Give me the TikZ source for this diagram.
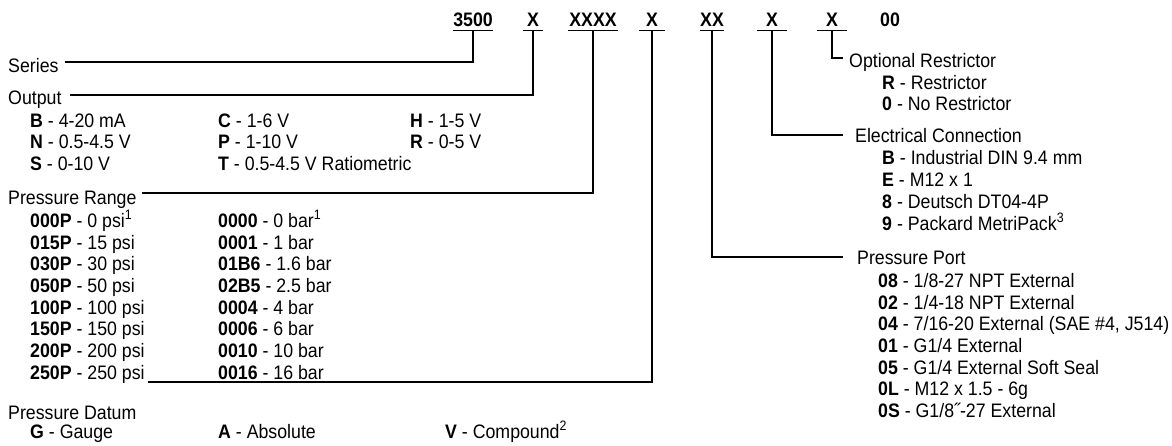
\documentclass[tikz,border=0pt]{standalone}
\usepackage{fontspec}
\setmainfont{Liberation Sans}[FakeStretch=0.91]
\usepackage{tikz}

\begin{document}
\begin{tikzpicture}[x=1pt, y=-1pt,
  every node/.style={inner sep=0pt, anchor=west, text height=14pt, text depth=0pt, font=\fontsize{19.5}{22}\selectfont},
  code/.style={anchor=center, inner ysep=4.5pt, font=\fontsize{19.5}{22}\selectfont\bfseries},
  link/.style={line width=1.4pt}]
  \useasboundingbox (0,0) rectangle (1172,445);

  % model code
  \node[code, minimum width=40pt] (C1) at (473,19) {3500};
  \node[code, minimum width=20pt] (C2) at (533,19) {X};
  \node[code, minimum width=50pt] (C3) at (593,19) {XXXX};
  \node[code, minimum width=25pt] (C4) at (652,19) {X};
  \node[code, minimum width=20pt] (C5) at (712,19) {XX};
  \node[code, minimum width=30pt] (C6) at (772,19) {X};
  \node[code, minimum width=30pt] (C7) at (832,19) {X};
  \node[code] (C8) at (890,19) {00};
  \foreach \c in {C1,C2,C3,C4,C5,C6,C7}
    \draw[link] (\c.south west) -- (\c.south east);

  % left side
  \node (series) at (8,65) {Series};
  \node (output) at (8,97) {Output};
  \node at (30,120) {\textbf{B} - 4-20 mA};
  \node at (218,120) {\textbf{C} - 1-6 V};
  \node at (410,120) {\textbf{H} - 1-5 V};
  \node at (30,141) {\textbf{N} - 0.5-4.5 V};
  \node at (218,141) {\textbf{P} - 1-10 V};
  \node at (410,141) {\textbf{R} - 0-5 V};
  \node at (30,163) {\textbf{S} - 0-10 V};
  \node at (218,163) {\textbf{T} - 0.5-4.5 V Ratiometric};

  \node (range) at (8,197) {Pressure Range};
  \node at (30,220) {\textbf{000P} - 0 psi\textsuperscript{1}};
  \node at (30,242) {\textbf{015P} - 15 psi};
  \node at (30,263) {\textbf{030P} - 30 psi};
  \node at (30,285) {\textbf{050P} - 50 psi};
  \node at (30,307) {\textbf{100P} - 100 psi};
  \node at (30,328) {\textbf{150P} - 150 psi};
  \node at (30,350) {\textbf{200P} - 200 psi};
  \node (psi250) at (30,372) {\textbf{250P} - 250 psi};
  \node at (218,220) {\textbf{0000} - 0 bar\textsuperscript{1}};
  \node at (218,242) {\textbf{0001} - 1 bar};
  \node at (218,263) {\textbf{01B6} - 1.6 bar};
  \node at (218,285) {\textbf{02B5} - 2.5 bar};
  \node at (218,307) {\textbf{0004} - 4 bar};
  \node at (218,328) {\textbf{0006} - 6 bar};
  \node at (218,350) {\textbf{0010} - 10 bar};
  \node at (218,372) {\textbf{0016} - 16 bar};

  \node (datum) at (8,412) {Pressure Datum};
  \node at (30,431) {\textbf{G} - Gauge};
  \node at (218,431) {\textbf{A} - Absolute};
  \node at (445,431) {\textbf{V} - Compound\textsuperscript{2}};

  % right side
  \node (restr) at (849,60) {Optional Restrictor};
  \node at (882,82) {\textbf{R} - Restrictor};
  \node at (882,103) {\textbf{0} - No Restrictor};

  \node (elec) at (855,135) {Electrical Connection};
  \node at (882,157) {\textbf{B} - Industrial DIN 9.4 mm};
  \node at (882,179) {\textbf{E} - M12 x 1};
  \node at (882,201) {\textbf{8} - Deutsch DT04-4P};
  \node at (882,223) {\textbf{9} - Packard MetriPack\textsuperscript{3}};

  \node (port) at (857,257) {Pressure Port};
  \node at (878,280) {\textbf{08} - 1/8-27 NPT External};
  \node at (878,302) {\textbf{02} - 1/4-18 NPT External};
  \node at (878,323) {\textbf{04} - 7/16-20 External (SAE \#4, J514)};
  \node at (878,345) {\textbf{01} - G1/4 External};
  \node at (878,367) {\textbf{05} - G1/4 External Soft Seal};
  \node at (878,388) {\textbf{0L} - M12 x 1.5 - 6g};
  \node at (878,410) {\textbf{0S} - G1/8˝-27 External};

  \coordinate (datumend) at (148,382);

  \draw[link] (C1.south) |- ([xshift=6pt,yshift=3pt]series.east);
  \draw[link] (C2.south) |- ([xshift=8pt,yshift=2pt]output.east);
  \draw[link] (C3.south) |- ([xshift=5pt,yshift=4pt]range.east);
  \draw[link] (C4.south) |- (datumend);
  \draw[link] (C5.south) |- ([xshift=-14pt]port.west);
  \draw[link] (C6.south) |- ([xshift=-12pt]elec.west);
  \draw[link] (C7.south) |- ([xshift=-6pt,yshift=2pt]restr.west);
\end{tikzpicture}
\end{document}
